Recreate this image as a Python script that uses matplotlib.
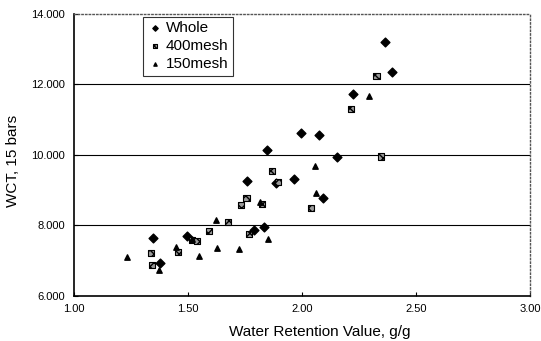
import matplotlib.pyplot as plt
import numpy as np

# Whole
whole_x = [1.347, 1.379, 1.496, 1.759, 1.791, 1.836, 1.849, 1.885, 1.967, 1.995,
           2.076, 2.091, 2.153, 2.226, 2.363, 2.395]
whole_y = [7.63, 6.94, 7.70, 9.27, 7.87, 7.94, 10.14, 9.19, 9.32, 10.62,
           10.57, 8.78, 9.95, 11.72, 13.20, 12.35]

# 400mesh
mesh400_x = [1.338, 1.342, 1.459, 1.520, 1.539, 1.592, 1.677, 1.734, 1.757, 1.769,
             1.827, 1.868, 1.897, 2.041, 2.214, 2.327, 2.347]
mesh400_y = [7.22, 6.86, 7.25, 7.58, 7.55, 7.84, 8.10, 8.58, 8.77, 7.74,
             8.60, 9.55, 9.23, 8.49, 11.30, 12.24, 9.95]

# 150mesh
mesh150_x = [1.236, 1.376, 1.450, 1.518, 1.549, 1.626, 1.629, 1.725, 1.817, 1.852,
             2.058, 2.062, 2.296]
mesh150_y = [7.09, 6.73, 7.39, 7.60, 7.14, 8.15, 7.36, 7.33, 8.67, 7.62,
             9.68, 8.92, 11.66]

xticks = [1.0, 1.5, 2.0, 2.5, 3.0]
yticks = [6, 8, 10, 12, 14]

plt.rcParams['font.family'] = ['Liberation Sans', 'DejaVu Sans']

fig = plt.figure(figsize=(5.41, 3.41), dpi=100)
ax = fig.add_axes([0.136, 0.133, 0.844, 0.826])

for y in [8, 10, 12]:
    ax.axhline(y, color='black', lw=0.8, zorder=1)

ax.scatter(whole_x, whole_y, marker='D', s=20, color='black', label='Whole', zorder=3)
ax.scatter(mesh400_x, mesh400_y, marker='s', s=20, facecolor='#9a9a9a',
           edgecolor='black', linewidths=0.8, hatch='xxxx', label='400mesh', zorder=3)
ax.scatter(mesh150_x, mesh150_y, marker='^', s=15, color='black', label='150mesh', zorder=3)

ax.set_xlim(1.0, 3.0)
ax.set_ylim(6, 14)
ax.set_xticks(xticks)
ax.set_yticks(yticks)
ax.set_xticklabels([f'{v:.2f}' for v in xticks], fontsize=8)
ax.set_yticklabels([f'{v}.000' for v in yticks], fontsize=8)
ax.tick_params(direction='in', length=3, width=0.8, pad=6)

ax.spines['left'].set_linewidth(1.2)
ax.spines['bottom'].set_linewidth(1.2)
for s in ['top', 'right']:
    ax.spines[s].set_linestyle(':')
    ax.spines[s].set_color('#555555')
    ax.spines[s].set_linewidth(1.0)

ax.set_xlabel('Water Retention Value, g/g', fontsize=11)
ax.xaxis.set_label_coords(0.54, -0.105)
ax.set_ylabel('WCT, 15 bars', fontsize=11)
ax.yaxis.set_label_coords(-0.118, 0.48)

leg = ax.legend(loc='upper left', bbox_to_anchor=(0.151, 0.99), fontsize=11,
                frameon=True, fancybox=False, edgecolor='black', handletextpad=0.2,
                handlelength=1.0, borderpad=0.3, labelspacing=0.25, markerscale=0.6,
                borderaxespad=0)
leg.get_frame().set_linewidth(0.8)

fig.savefig('out.png', dpi=100)
